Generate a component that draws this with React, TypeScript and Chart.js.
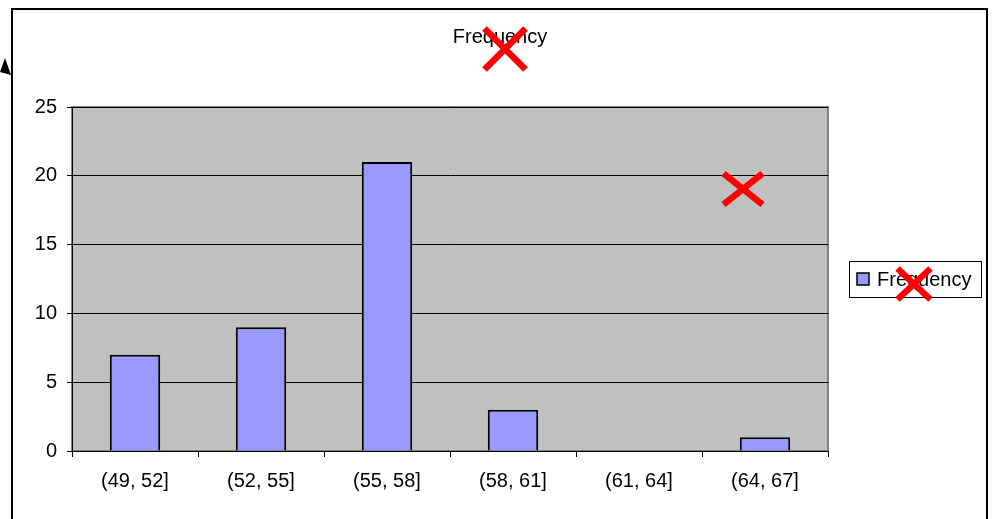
import React, { useEffect, useRef } from "react";
import { Chart, registerables } from "chart.js";

Chart.register(...registerables);

const categories = ["(49, 52]", "(52, 55]", "(55, 58]", "(58, 61]", "(61, 64]", "(64, 67]"];
const frequency = [7, 9, 21, 3, 0, 1];
const yTicks = [0, 5, 10, 15, 20, 25];
const seriesName = "Frequency";
const chartTitle = "Frequency";

const FONT = "'Liberation Sans', Arial, sans-serif";
const BAR_FILL = "#9999FF";
const PLOT_BG = "#C0C0C0";

function drawX(ctx: CanvasRenderingContext2D, cx: number, cy: number, w: number, h: number) {
  ctx.save();
  ctx.strokeStyle = "#FF0000";
  ctx.lineWidth = 6.5;
  ctx.lineCap = "butt";
  ctx.beginPath();
  ctx.moveTo(cx - w / 2, cy - h / 2);
  ctx.lineTo(cx + w / 2, cy + h / 2);
  ctx.moveTo(cx + w / 2, cy - h / 2);
  ctx.lineTo(cx - w / 2, cy + h / 2);
  ctx.stroke();
  ctx.restore();
}

const decorPlugin = {
  id: "decor",
  beforeDraw(chart: any) {
    const { ctx, chartArea } = chart;
    const { left, top, right, bottom } = chartArea;
    ctx.save();
    ctx.fillStyle = "#FFFFFF";
    ctx.fillRect(0, 0, chart.width, chart.height);
    ctx.fillStyle = PLOT_BG;
    ctx.fillRect(left, top, right - left, bottom - top);
    ctx.strokeStyle = "#808080";
    ctx.lineWidth = 2;
    ctx.strokeRect(left, top, right - left, bottom - top);
    ctx.restore();
  },
  afterDraw(chart: any) {
    const { ctx, chartArea } = chart;
    const { top, right, bottom } = chartArea;
    ctx.save();
    // outer frame
    ctx.strokeStyle = "#000";
    ctx.lineWidth = 2;
    ctx.strokeRect(12, 9, chart.width - 17, chart.height + 20);
    // arrow head on the left edge
    ctx.fillStyle = "#000";
    ctx.beginPath();
    ctx.moveTo(0, 72);
    ctx.lineTo(5, 58);
    ctx.lineTo(11, 75);
    ctx.closePath();
    ctx.fill();
    // title
    ctx.fillStyle = "#000";
    ctx.font = `20px ${FONT}`;
    ctx.textAlign = "center";
    ctx.textBaseline = "middle";
    const titleX = chart.width / 2 + 4;
    ctx.fillText(chartTitle, titleX, 37);
    // legend
    const lx = right + 21;
    const ly = (top + bottom) / 2;
    const lw = 132;
    const lh = 36;
    ctx.lineWidth = 1;
    ctx.strokeStyle = "#000";
    ctx.fillStyle = "#FFF";
    ctx.fillRect(lx, ly - lh / 2, lw, lh);
    ctx.strokeRect(lx + 0.5, ly - lh / 2 + 0.5, lw, lh);
    ctx.fillStyle = BAR_FILL;
    ctx.fillRect(lx + 8, ly - 6, 12, 12);
    ctx.lineWidth = 1.5;
    ctx.strokeRect(lx + 8, ly - 6, 12, 12);
    ctx.fillStyle = "#000";
    ctx.textAlign = "left";
    ctx.fillText(seriesName, lx + 28, ly + 1);
    // red X marks
    drawX(ctx, titleX + 5, 49, 41, 41);
    drawX(ctx, right - 85, top + 82, 39, 31);
    drawX(ctx, lx + 65, ly + 5, 33, 31);
    ctx.restore();
  },
};

export default function App() {
  const ref = useRef<HTMLCanvasElement>(null);
  useEffect(() => {
    if (!ref.current) return;
    const chart = new Chart(ref.current, {
      type: "bar",
      data: {
        labels: categories,
        datasets: [
          {
            label: seriesName,
            data: frequency,
            backgroundColor: BAR_FILL,
            borderColor: "#000",
            borderWidth: 2,
            categoryPercentage: 1,
            barPercentage: 0.4,
          },
        ],
      },
      options: {
        responsive: false,
        animation: false,
        layout: { padding: { left: 12, top: 107, right: 164, bottom: 28 } },
        plugins: {
          legend: { display: false },
          title: { display: false },
          tooltip: { enabled: false },
        },
        scales: {
          x: {
            offset: true,
            grid: {
              offset: true,
              drawOnChartArea: false,
              drawTicks: true,
              tickLength: 6,
              color: "#000",
            },
            border: { color: "#000", width: 1 },
            ticks: {
              color: "#000",
              font: { family: FONT, size: 20 },
              padding: 12,
              maxRotation: 0,
              autoSkip: false,
            },
            afterFit: (s: any) => {
              s.height = 40;
            },
          },
          y: {
            min: 0,
            max: 25,
            afterBuildTicks: (s: any) => {
              s.ticks = yTicks.map((v) => ({ value: v }));
            },
            grid: {
              color: "#000",
              lineWidth: 1,
              drawTicks: true,
              tickLength: 5,
            },
            border: { color: "#000", width: 1 },
            ticks: {
              color: "#000",
              font: { family: FONT, size: 20 },
              padding: 10,
            },
            afterFit: (s: any) => {
              s.width = 60;
            },
          },
        },
      },
      plugins: [decorPlugin],
    });
    return () => chart.destroy();
  }, []);
  return (
    <div style={{ position: "fixed", left: 0, top: 0, width: 992, height: 519 }}>
      <canvas ref={ref} width={992} height={519} />
    </div>
  );
}
